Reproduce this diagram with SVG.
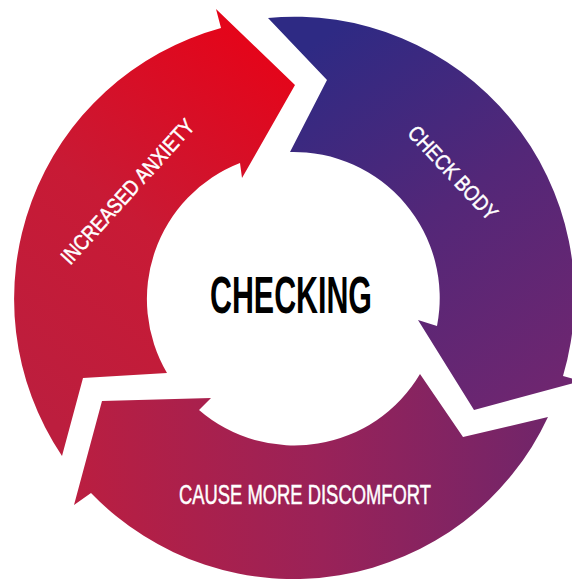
<svg xmlns="http://www.w3.org/2000/svg" width="572" height="579" viewBox="0 0 572 579">
  <defs>
    <linearGradient id="gRed" gradientUnits="userSpaceOnUse" x1="50" y1="420" x2="300" y2="80">
      <stop offset="0" stop-color="#bc1e3e"/>
      <stop offset="0.5" stop-color="#c81a35"/>
      <stop offset="1" stop-color="#e4051a"/>
    </linearGradient>
    <linearGradient id="gPurple" gradientUnits="userSpaceOnUse" x1="290" y1="60" x2="530" y2="400">
      <stop offset="0" stop-color="#2e2a84"/>
      <stop offset="0.5" stop-color="#532778"/>
      <stop offset="1" stop-color="#6e2670"/>
    </linearGradient>
    <linearGradient id="gBottom" gradientUnits="userSpaceOnUse" x1="70" y1="450" x2="560" y2="420">
      <stop offset="0" stop-color="#bb1e40"/>
      <stop offset="0.5" stop-color="#9a2258"/>
      <stop offset="1" stop-color="#6e256b"/>
    </linearGradient>
    <style>
      .lbl { font-family: "Liberation Sans", Arial, sans-serif; fill: #ffffff; stroke: #ffffff; stroke-width: 0.5; text-anchor: middle; }
      .center { font-family: "Liberation Sans", Arial, sans-serif; font-weight: bold; fill: #000000; text-anchor: middle; }
    </style>
  </defs>
  <rect x="0" y="0" width="572" height="579" fill="#ffffff"/>
  <g id="connectors"/>
  <g id="increased-anxiety">
    <path d="M62,456 A281,281 0 0 1 221,28 L216,9 L295,85 L242,178 L240,163 A146,146 0 0 0 167,373 L83,378 Z" fill="url(#gRed)"/>
    <text class="lbl" x="133" y="196.5" font-size="21.5" textLength="187" lengthAdjust="spacingAndGlyphs" transform="rotate(-47.8 133 196.5)">INCREASED ANXIETY</text>
  </g>
  <g id="check-body">
    <path d="M268,18 A280,280 0 0 1 563,376 L581,381 L474,410 L418,320 L437,326 A146,146 0 0 0 290,152 L327,80 Z" fill="url(#gPurple)"/>
    <text class="lbl" x="447.5" y="178" font-size="21.5" textLength="120" lengthAdjust="spacingAndGlyphs" transform="rotate(47 447.5 178)">CHECK BODY</text>
  </g>
  <g id="cause-more-discomfort">
    <path d="M548,417 A281,281 0 0 1 91,493 L74,505 L102,401 L211,398 L199,410 A146,146 0 0 0 420,374 L463,437 Z" fill="url(#gBottom)"/>
    <text class="lbl" x="305" y="504" font-size="27" textLength="252" lengthAdjust="spacingAndGlyphs">CAUSE MORE DISCOMFORT</text>
  </g>
  <g id="checking">
    <text class="center" x="291" y="313" font-size="51" textLength="162" lengthAdjust="spacingAndGlyphs">CHECKING</text>
  </g>
</svg>
